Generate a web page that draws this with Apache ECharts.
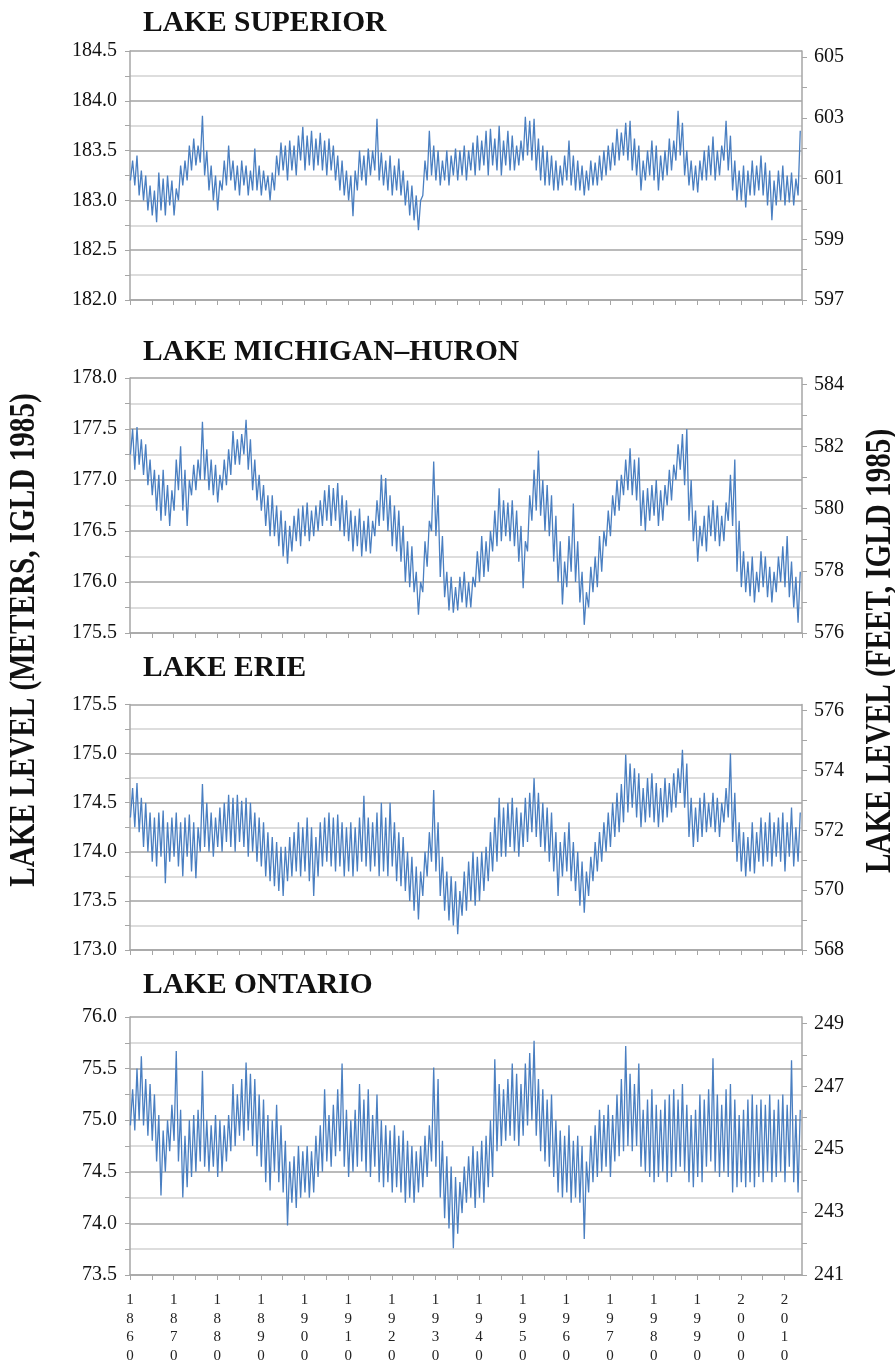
<!DOCTYPE html>
<html>
<head>
<meta charset="utf-8">
<script src="https://cdn.jsdelivr.net/npm/echarts@6/dist/echarts.min.js"></script>
<style>
html,body{margin:0;padding:0;background:#fff;}
#chart{width:895px;height:1365px;}
</style>
</head>
<body>
<div id="chart"></div>
<script>
// ---------------- DATA ----------------
const START_YEAR = 1860;           // first year of the record (one low + one high per year)
const panelTitles = ['LAKE SUPERIOR', 'LAKE MICHIGAN–HURON', 'LAKE ERIE', 'LAKE ONTARIO'];
const meterRanges = [[182.0, 184.5], [175.5, 178.0], [173.0, 175.5], [73.5, 76.0]];
const feetMins = [597, 576, 568, 241];
const decadeLabels = ['1860','1870','1880','1890','1900','1910','1920','1930','1940','1950','1960','1970','1980','1990','2000','2010'];

// Lake Superior (m) : yearly winter low / summer high, 1860-2013
const supLow = [
183.20,183.15,183.05,183.00,182.90,182.85,182.78,182.90,182.85,182.95,
182.85,183.00,183.15,183.20,183.30,183.35,183.38,183.25,183.10,183.00,
182.90,183.10,183.15,183.20,183.10,183.05,183.15,183.05,183.10,183.10,
183.05,183.10,183.00,183.10,183.25,183.30,183.20,183.30,183.25,183.40,
183.30,183.35,183.30,183.35,183.30,183.25,183.30,183.20,183.10,183.05,
183.00,182.84,183.10,183.20,183.15,183.25,183.30,183.20,183.15,183.10,
183.05,183.10,183.05,182.95,182.85,182.80,182.70,183.05,183.20,183.25,
183.20,183.15,183.20,183.15,183.25,183.20,183.25,183.20,183.30,183.25,
183.30,183.35,183.25,183.35,183.30,183.25,183.35,183.30,183.30,183.35,
183.40,183.45,183.40,183.30,183.20,183.15,183.15,183.10,183.10,183.15,
183.20,183.15,183.10,183.10,183.05,183.10,183.15,183.15,183.20,183.25,
183.30,183.35,183.40,183.45,183.40,183.30,183.25,183.10,183.20,183.25,
183.20,183.10,183.20,183.25,183.30,183.40,183.45,183.25,183.15,183.10,
183.08,183.20,183.20,183.25,183.20,183.25,183.40,183.30,183.10,183.00,
183.00,182.93,183.05,183.05,183.10,183.05,182.95,182.80,182.95,183.00,
182.95,182.98,182.95,183.05];
const supHigh = [
183.40,183.45,183.30,183.25,183.15,183.10,183.28,183.22,183.25,183.20,
183.12,183.35,183.40,183.55,183.62,183.55,183.85,183.50,183.35,183.25,
183.20,183.40,183.55,183.40,183.35,183.40,183.35,183.30,183.52,183.35,
183.30,183.25,183.28,183.45,183.58,183.55,183.60,183.55,183.65,183.74,
183.65,183.70,183.62,183.68,183.60,183.62,183.55,183.45,183.40,183.30,
183.25,183.30,183.50,183.45,183.52,183.50,183.82,183.48,183.40,183.45,
183.35,183.42,183.30,183.20,183.15,183.05,183.00,183.40,183.70,183.55,
183.50,183.40,183.50,183.45,183.52,183.50,183.55,183.50,183.58,183.65,
183.60,183.70,183.72,183.62,183.75,183.60,183.70,183.65,183.55,183.60,
183.84,183.80,183.82,183.62,183.55,183.50,183.45,183.40,183.35,183.45,
183.60,183.45,183.40,183.35,183.30,183.40,183.38,183.45,183.50,183.55,
183.58,183.72,183.68,183.78,183.80,183.62,183.55,183.40,183.50,183.60,
183.55,183.45,183.50,183.62,183.60,183.90,183.78,183.50,183.40,183.35,
183.40,183.50,183.55,183.64,183.50,183.55,183.80,183.65,183.40,183.30,
183.35,183.30,183.40,183.35,183.45,183.38,183.30,183.20,183.30,183.35,
183.25,183.28,183.22,183.70];

// Lake Michigan-Huron (m)
const mhLow = [
177.25,177.10,177.15,177.05,176.95,176.85,176.70,176.60,176.65,176.55,
176.70,176.90,176.70,176.55,176.85,176.90,177.00,177.00,176.90,176.85,
176.78,176.90,176.95,177.05,177.15,177.15,177.25,177.10,176.90,176.80,
176.70,176.55,176.45,176.45,176.35,176.25,176.18,176.30,176.40,176.35,
176.45,176.40,176.45,176.50,176.55,176.60,176.55,176.60,176.50,176.45,
176.40,176.30,176.35,176.25,176.30,176.28,176.45,176.55,176.60,176.50,
176.35,176.30,176.20,176.00,175.95,175.90,175.68,175.90,176.15,176.50,
176.45,176.05,175.85,175.72,175.70,175.72,175.80,175.75,175.75,175.95,
176.00,176.05,176.10,176.30,176.35,176.40,176.45,176.40,176.35,176.20,
175.94,176.30,176.60,176.70,176.65,176.50,176.45,176.20,176.00,175.78,
175.95,176.10,176.00,175.80,175.58,175.75,175.90,175.95,176.10,176.35,
176.45,176.65,176.70,176.85,176.90,176.85,176.80,176.55,176.50,176.60,
176.65,176.55,176.60,176.75,176.80,177.00,177.10,176.95,176.60,176.40,
176.20,176.35,176.30,176.45,176.40,176.35,176.40,176.60,176.55,176.10,
175.95,175.90,175.86,175.80,175.90,175.95,175.85,175.80,175.90,176.00,
175.95,175.85,175.75,175.60];
const mhHigh = [
177.50,177.52,177.40,177.35,177.20,177.10,177.05,177.10,176.95,176.90,
177.20,177.33,177.10,177.00,177.15,177.20,177.57,177.30,177.20,177.15,
177.05,177.20,177.30,177.48,177.40,177.45,177.59,177.40,177.20,177.05,
176.95,176.85,176.85,176.75,176.70,176.60,176.55,176.65,176.72,176.75,
176.78,176.70,176.75,176.80,176.90,176.95,176.92,176.97,176.85,176.80,
176.70,176.65,176.72,176.60,176.65,176.60,176.80,177.05,177.02,176.85,
176.75,176.70,176.55,176.40,176.35,176.10,176.00,176.40,176.60,177.18,
176.85,176.45,176.10,176.05,175.95,176.05,176.10,176.00,176.05,176.30,
176.45,176.40,176.50,176.70,176.92,176.80,176.78,176.80,176.70,176.55,
176.40,176.85,177.10,177.29,177.00,176.95,176.85,176.65,176.40,176.20,
176.45,176.77,176.40,176.10,175.90,176.15,176.25,176.45,176.50,176.70,
176.85,177.00,177.05,177.20,177.31,177.20,177.22,176.90,176.92,176.95,
177.00,176.90,176.95,177.10,177.15,177.35,177.45,177.50,177.00,176.70,
176.55,176.65,176.75,176.80,176.75,176.65,176.78,177.05,177.20,176.60,
176.30,176.20,176.25,176.10,176.30,176.25,176.15,176.10,176.25,176.35,
176.45,176.20,176.05,176.10];

// Lake Erie (m)
const erLow = [
174.35,174.25,174.20,174.05,174.00,173.90,173.85,173.95,173.68,173.90,
173.95,173.85,173.75,173.95,173.80,173.73,174.00,174.05,174.00,173.95,
174.05,174.00,174.10,174.05,174.00,174.10,174.05,173.95,174.00,173.90,
173.85,173.75,173.70,173.65,173.60,173.55,173.70,173.75,173.80,173.75,
173.80,173.70,173.55,173.75,173.85,173.90,173.85,173.80,173.85,173.75,
173.80,173.75,173.80,173.90,173.85,173.80,173.85,173.75,173.80,173.75,
173.85,173.70,173.65,173.60,173.50,173.40,173.31,173.55,173.75,173.90,
173.80,173.55,173.40,173.30,173.25,173.16,173.35,173.40,173.50,173.45,
173.50,173.60,173.70,173.80,173.90,173.95,173.95,174.05,174.00,173.95,
174.05,174.10,174.20,174.15,174.05,174.00,173.90,173.80,173.55,173.75,
173.80,173.70,173.60,173.45,173.38,173.55,173.70,173.80,173.90,174.00,
174.05,174.15,174.20,174.30,174.40,174.45,174.35,174.25,174.30,174.35,
174.30,174.25,174.30,174.35,174.40,174.45,174.60,174.45,174.15,174.05,
174.10,174.15,174.20,174.25,174.20,174.15,174.30,174.35,174.10,173.90,
173.80,173.75,173.80,173.78,173.90,173.85,173.90,173.85,173.95,173.90,
173.80,173.95,173.85,173.90];
const erHigh = [
174.65,174.70,174.55,174.50,174.40,174.35,174.40,174.42,174.30,174.35,
174.40,174.30,174.35,174.38,174.30,174.25,174.69,174.50,174.40,174.35,
174.45,174.50,174.58,174.55,174.58,174.52,174.55,174.50,174.40,174.35,
174.30,174.20,174.15,174.10,174.05,174.05,174.15,174.20,174.30,174.25,
174.35,174.25,174.15,174.30,174.35,174.40,174.35,174.38,174.30,174.25,
174.30,174.25,174.35,174.57,174.35,174.30,174.40,174.50,174.35,174.50,
174.30,174.20,174.15,174.00,173.95,173.85,173.80,174.00,174.20,174.63,
174.30,173.95,173.80,173.75,173.70,173.60,173.80,173.90,174.00,173.95,
174.00,174.05,174.20,174.35,174.55,174.45,174.50,174.55,174.45,174.40,
174.55,174.60,174.75,174.60,174.50,174.45,174.40,174.20,174.10,174.20,
174.30,174.10,174.00,173.90,173.80,173.95,174.10,174.20,174.30,174.40,
174.50,174.60,174.69,174.99,174.90,174.85,174.80,174.65,174.75,174.80,
174.70,174.65,174.75,174.70,174.80,174.85,175.04,174.90,174.55,174.45,
174.55,174.60,174.50,174.60,174.55,174.50,174.65,175.00,174.60,174.30,
174.20,174.15,174.30,174.20,174.35,174.30,174.40,174.30,174.35,174.40,
174.30,174.45,174.25,174.40];

// Lake Ontario (m)
const onLow = [
74.95,74.90,75.00,74.95,74.85,74.80,74.60,74.27,74.50,74.70,
74.80,74.60,74.25,74.35,74.45,74.50,74.60,74.55,74.50,74.55,
74.45,74.50,74.60,74.70,74.75,74.85,74.80,74.90,74.75,74.65,
74.55,74.40,74.32,74.50,74.40,74.30,73.98,74.20,74.15,74.25,
74.30,74.25,74.30,74.45,74.50,74.60,74.55,74.65,74.70,74.55,
74.45,74.50,74.55,74.60,74.50,74.45,74.55,74.40,74.35,74.40,
74.30,74.35,74.30,74.20,74.25,74.20,74.30,74.35,74.45,74.60,
74.55,74.25,74.05,73.95,73.76,73.90,74.10,74.20,74.25,74.15,
74.25,74.20,74.35,74.45,74.70,74.75,74.80,74.85,74.80,74.75,
74.85,74.95,75.00,74.85,74.70,74.60,74.55,74.45,74.30,74.25,
74.30,74.20,74.25,74.20,73.85,74.30,74.40,74.45,74.50,74.55,
74.45,74.60,74.65,74.70,74.75,74.70,74.75,74.55,74.50,74.45,
74.40,74.45,74.50,74.40,74.45,74.50,74.55,74.50,74.40,74.35,
74.45,74.40,74.55,74.60,74.50,74.45,74.50,74.45,74.30,74.35,
74.40,74.35,74.40,74.35,74.45,74.40,74.50,74.40,74.45,74.50,
74.40,74.55,74.40,74.30];
const onHigh = [
75.30,75.50,75.62,75.40,75.35,75.25,75.05,74.90,75.00,75.15,
75.67,75.10,74.85,75.00,75.05,75.10,75.48,75.00,74.95,75.05,
75.00,74.95,75.05,75.35,75.25,75.40,75.56,75.45,75.40,75.25,
75.20,75.05,75.00,75.15,74.95,74.80,74.60,74.65,74.75,74.70,
74.75,74.70,74.85,74.95,75.30,75.05,75.15,75.30,75.55,75.10,
75.00,75.10,75.35,75.20,75.30,75.05,75.25,75.00,74.95,74.90,
74.95,74.85,74.90,74.80,74.75,74.70,74.75,74.85,74.95,75.51,
75.40,74.80,74.65,74.55,74.45,74.40,74.55,74.65,74.75,74.70,
74.80,74.85,75.00,75.59,75.35,75.30,75.40,75.55,75.45,75.35,
75.55,75.65,75.77,75.40,75.30,75.20,75.25,75.00,74.90,74.85,
74.95,74.80,74.85,74.75,74.60,74.85,74.95,75.10,75.05,75.15,
75.05,75.25,75.40,75.72,75.45,75.35,75.55,75.10,75.20,75.30,
75.15,75.10,75.20,75.25,75.30,75.20,75.35,75.15,75.05,75.10,
75.25,75.20,75.30,75.60,75.25,75.15,75.30,75.35,75.20,75.05,
75.10,75.20,75.25,75.15,75.20,75.15,75.25,75.10,75.20,75.25,
75.15,75.58,75.05,75.10];

const lows = [supLow, mhLow, erLow, onLow];
const highs = [supHigh, mhHigh, erHigh, onHigh];

// ---------------- LAYOUT ----------------
const FT_PER_M = 1 / 0.3048;
const gridTops = [51, 378, 704.5, 1017];
const gridHeights = [249, 255, 245.5, 260];
const titleY = [23, 352, 668, 985];
const FONT = '"Liberation Serif", "Times New Roman", serif';
const AXIS_GRAY = '#a6a6a6';
const LINE_BLUE = '#4a7fc1';

function seriesData(low, high) {
  const out = [];
  for (let k = 0; k < low.length; k++) {
    out.push([START_YEAR + k + 0.1, low[k]]);
    out.push([START_YEAR + k + 0.6, high[k]]);
  }
  return out;
}

const grids = [], xAxes = [], yAxes = [], series = [], graphics = [];
for (let i = 0; i < 4; i++) {
  grids.push({left: 130, width: 672, top: gridTops[i], height: gridHeights[i]});
  xAxes.push({
    type: 'value', gridIndex: i, min: 1860, max: 2014, interval: 5,
    axisLine: {show: true, onZero: false, lineStyle: {color: AXIS_GRAY, width: 1.5}},
    axisTick: {show: true, length: 5, lineStyle: {color: AXIS_GRAY, width: 1}},
    splitLine: {show: false},
    axisLabel: {
      show: i === 3, margin: 16, color: '#222', fontFamily: FONT, fontSize: 15, lineHeight: 18.5,
      showMaxLabel: false,
      formatter: function (v) {
        const s = String(Math.round(v));
        return decadeLabels.indexOf(s) >= 0 ? s.split('').join('\n') : '';
      }
    }
  });
  const mMin = meterRanges[i][0], mMax = meterRanges[i][1];
  yAxes.push({
    type: 'value', gridIndex: i, position: 'left', min: mMin, max: mMax, interval: 0.25,
    axisLine: {show: true, lineStyle: {color: AXIS_GRAY, width: 1.5}},
    axisTick: {show: true, length: 5, lineStyle: {color: AXIS_GRAY}},
    splitLine: {show: true, lineStyle: {color: ['#a3a3a3', '#d2d2d2'], width: 1.6}},
    axisLabel: {
      margin: 13, color: '#111', fontFamily: FONT, fontSize: 20,
      formatter: function (v) {
        return Math.round(v * 100) % 50 === 0 ? v.toFixed(1) : '';
      }
    }
  });
  const fMin = feetMins[i];
  const fMax = fMin + (mMax - mMin) * FT_PER_M;
  yAxes.push({
    type: 'value', gridIndex: i, position: 'right', min: fMin, max: fMax, interval: 1,
    axisLine: {show: true, lineStyle: {color: AXIS_GRAY, width: 1.5}},
    axisTick: {show: true, length: 5, lineStyle: {color: AXIS_GRAY}},
    splitLine: {show: false},
    axisLabel: {
      margin: 12, color: '#111', fontFamily: FONT, fontSize: 20, showMaxLabel: false,
      formatter: function (v) {
        const r = Math.round(v);
        return (Math.abs(v - r) < 1e-6 && (r - fMin) % 2 === 0) ? String(r) : '';
      }
    }
  });
  series.push({
    type: 'line', xAxisIndex: i, yAxisIndex: i * 2, showSymbol: false, silent: true,
    data: seriesData(lows[i], highs[i]),
    lineStyle: {color: LINE_BLUE, width: 1.3}
  });
  graphics.push({
    type: 'text', x: 143, y: titleY[i],
    style: {text: panelTitles[i], font: 'bold 29.5px ' + FONT, fill: '#111', textVerticalAlign: 'middle'}
  });
}
graphics.push({
  type: 'text', x: 25, y: 640, rotation: Math.PI / 2, scaleX: 0.81,
  style: {text: 'LAKE LEVEL (METERS, IGLD 1985)', font: 'bold 36px ' + FONT, fill: '#111',
          textAlign: 'center', textVerticalAlign: 'middle'}
});
graphics.push({
  type: 'text', x: 881, y: 651, rotation: Math.PI / 2, scaleX: 0.81,
  style: {text: 'LAKE LEVEL (FEET, IGLD 1985)', font: 'bold 36px ' + FONT, fill: '#111',
          textAlign: 'center', textVerticalAlign: 'middle'}
});

const chart = echarts.init(document.getElementById('chart'), null, {renderer: 'canvas', width: 895, height: 1365});
chart.setOption({
  animation: false,
  backgroundColor: '#ffffff',
  grid: grids, xAxis: xAxes, yAxis: yAxes, series: series, graphic: graphics
});
</script>
</body>
</html>
